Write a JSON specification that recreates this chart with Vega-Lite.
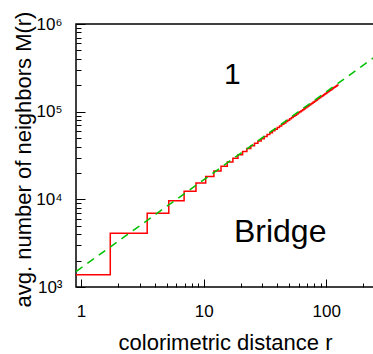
{
  "$schema": "https://vega.github.io/schema/vega-lite/v6.json",
  "width": 298,
  "height": 263,
  "autosize": "none",
  "padding": {"left": 76, "top": 24, "right": 0, "bottom": 67},
  "config": {
    "font": "Liberation Sans",
    "view": {"stroke": "#000000", "strokeWidth": 1.5},
    "axis": {"grid": false, "domain": false, "tickColor": "#000000", "tickWidth": 1, "labelColor": "#000000", "titleColor": "#000000", "titleFontWeight": "normal", "labelFont": "Liberation Sans", "titleFont": "Liberation Sans"}
  },
  "datasets": {
    "steps": [
      {"r": 0.91, "M": 1380}, {"r": 1.732, "M": 4100}, {"r": 3.464, "M": 6920}, {"r": 5.196, "M": 9640},
      {"r": 6.928, "M": 12340}, {"r": 8.660, "M": 15350}, {"r": 10.392, "M": 18240}, {"r": 12.124, "M": 21050},
      {"r": 13.856, "M": 23860}, {"r": 15.588, "M": 26670}, {"r": 17.321, "M": 29480}, {"r": 19.053, "M": 32290},
      {"r": 20.785, "M": 35100}, {"r": 22.517, "M": 37910}, {"r": 24.249, "M": 40720}, {"r": 25.981, "M": 43530},
      {"r": 27.713, "M": 46340}, {"r": 29.445, "M": 49150}, {"r": 31.177, "M": 51960}, {"r": 32.909, "M": 54770},
      {"r": 34.641, "M": 57580}, {"r": 36.373, "M": 60390}, {"r": 38.105, "M": 63200}, {"r": 39.837, "M": 66010},
      {"r": 41.569, "M": 68820}, {"r": 43.301, "M": 71630}, {"r": 45.033, "M": 74440}, {"r": 46.765, "M": 77250},
      {"r": 48.497, "M": 80060}, {"r": 50.229, "M": 82870}, {"r": 51.962, "M": 85680}, {"r": 53.694, "M": 88490},
      {"r": 55.426, "M": 91300}, {"r": 57.158, "M": 94110}, {"r": 58.890, "M": 96920}, {"r": 60.622, "M": 99730},
      {"r": 62.354, "M": 102540}, {"r": 64.086, "M": 105350}, {"r": 65.818, "M": 108160}, {"r": 67.550, "M": 110970},
      {"r": 69.282, "M": 113780}, {"r": 71.014, "M": 116590}, {"r": 72.746, "M": 119400}, {"r": 74.478, "M": 122210},
      {"r": 76.210, "M": 125020}, {"r": 77.942, "M": 127830}, {"r": 79.674, "M": 130640}, {"r": 81.406, "M": 133450},
      {"r": 83.138, "M": 136260}, {"r": 84.870, "M": 139070}, {"r": 86.603, "M": 141880}, {"r": 88.335, "M": 144690},
      {"r": 90.067, "M": 147500}, {"r": 91.799, "M": 150310}, {"r": 93.531, "M": 153120}, {"r": 95.263, "M": 155930},
      {"r": 96.995, "M": 158740}, {"r": 98.727, "M": 161550}, {"r": 100.459, "M": 164360}, {"r": 102.191, "M": 167170},
      {"r": 103.923, "M": 169980}, {"r": 105.655, "M": 172790}, {"r": 107.387, "M": 175600}, {"r": 109.119, "M": 178410},
      {"r": 110.851, "M": 181220}, {"r": 112.583, "M": 184030}, {"r": 114.315, "M": 186840}, {"r": 116.047, "M": 189650},
      {"r": 117.779, "M": 192460}, {"r": 119.512, "M": 195270}, {"r": 121.244, "M": 198080}, {"r": 122.976, "M": 200890},
      {"r": 124.708, "M": 203700}
    ],
    "fit": [{"r": 0.91, "M": 1500}, {"r": 245, "M": 415000}],
    "labels": [{"r": 17.1, "M": 206000, "t": "1", "s": "a"}, {"r": 42.1, "M": 3285, "t": "Bridge", "s": "b"}]
  },
  "resolve": {"axis": {"x": "independent", "y": "independent"}},
  "layer": [
    {
      "data": {"name": "steps"},
      "mark": {"type": "line", "interpolate": "step-after", "color": "#ff0000", "strokeWidth": 1.5},
      "encoding": {
        "x": {"field": "r", "type": "quantitative",
          "scale": {"type": "log", "domain": [0.91, 245], "nice": false},
          "axis": {"orient": "bottom", "offset": -8, "tickSize": 8,
            "values": [1, 2, 3, 4, 5, 6, 7, 8, 9, 10, 20, 30, 40, 50, 60, 70, 80, 90, 100, 200],
            "labelExpr": "datum.value == 1 || datum.value == 10 || datum.value == 100 ? datum.label : ''",
            "tickDash": {"condition": {"test": "datum.value == 1 || datum.value == 10 || datum.value == 100", "value": [8, 0]}, "value": [0, 4, 4, 20]},
            "labelFontSize": 17, "labelPadding": 16,
            "title": "colorimetric distance r", "titleFontSize": 22, "titleX": 149, "titleY": 70, "titleBaseline": "alphabetic", "titleAlign": "center"}},
        "y": {"field": "M", "type": "quantitative",
          "scale": {"type": "log", "domain": [1000, 1000000], "nice": false},
          "axis": {"orient": "left", "offset": -9, "tickSize": 9,
            "values": [1000, 2000, 3000, 4000, 5000, 6000, 7000, 8000, 9000, 10000, 20000, 30000, 40000, 50000, 60000, 70000, 80000, 90000, 100000, 200000, 300000, 400000, 500000, 600000, 700000, 800000, 900000, 1000000],
            "tickDash": {"condition": {"test": "datum.value == 1000 || datum.value == 10000 || datum.value == 100000 || datum.value == 1000000", "value": [9, 0]}, "value": [0, 4, 5, 20]},
            "labelFontSize": 17, "labelPadding": 14,
            "labelExpr": "datum.value == 1000 ? '10³' : datum.value == 10000 ? '10⁴' : datum.value == 100000 ? '10⁵' : datum.value == 1000000 ? '10⁶' : ''",
            "title": "avg. number of neighbors M(r)", "titleFontSize": 22, "titleX": -55, "titleY": 135, "titleBaseline": "alphabetic", "titleAngle": 270, "titleAlign": "center"}}
      }
    },
    {
      "data": {"name": "fit"},
      "mark": {"type": "line", "color": "#00c000", "strokeWidth": 1.5, "strokeDash": [8, 6]},
      "encoding": {
        "x": {"field": "r", "type": "quantitative", "axis": null},
        "y": {"field": "M", "type": "quantitative", "axis": null}
      }
    },
    {
      "data": {"name": "labels"},
      "mark": {"type": "text", "align": "center", "baseline": "alphabetic", "color": "#000000"},
      "encoding": {
        "x": {"field": "r", "type": "quantitative", "axis": null},
        "y": {"field": "M", "type": "quantitative", "axis": null},
        "text": {"field": "t"},
        "size": {"condition": {"test": "datum.s == 'b'", "value": 32}, "value": 30}
      }
    }
  ]
}
